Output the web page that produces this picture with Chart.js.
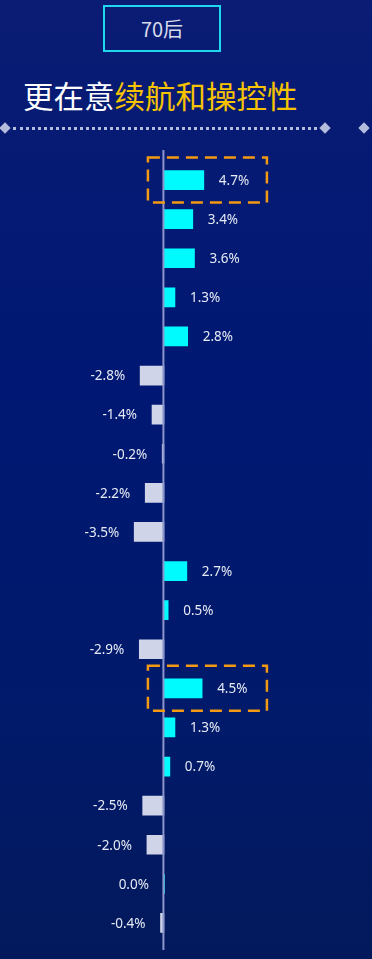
<!DOCTYPE html>
<html>
<head>
<meta charset="utf-8">
<script src="https://cdn.jsdelivr.net/npm/chart.js@4/dist/chart.umd.min.js"></script>
<style>
  html, body { margin: 0; padding: 0; }
  body {
    width: 372px; height: 959px; overflow: hidden; position: relative;
    background: linear-gradient(180deg, #0a1c74 0%, #001873 40%, #011a6a 75%, #03195c 100%);
    font-family: "Noto Sans CJK SC", "Noto Sans", sans-serif;
  }
  #tag {
    position: absolute; left: 103px; top: 5px; width: 114px; height: 43px;
    border: 2px solid #1ed8ee; color: #d8dcec; font-size: 20px;
    line-height: 43px; text-align: center;
  }
  #title {
    position: absolute; left: 23px; top: 73px; font-size: 30.5px; color: #ffffff;
    white-space: nowrap;
  }
  #title span { color: #f7c300; }
  .dots {
    position: absolute; left: 13px; top: 127px; width: 304px; height: 0;
    border-top: 3px dotted #b4bcdc;
  }
  .dia {
    position: absolute; width: 8px; height: 8px; background: #b4bcdc;
    transform: rotate(45deg); top: 124px;
  }
  #wrap { position: absolute; left: 0; top: 150px; width: 372px; height: 800px; }
</style>
</head>
<body>
<div id="tag">70后</div>
<div id="title">更在意<span>续航和操控性</span></div>
<div class="dia" style="left:1px"></div>
<div class="dots"></div>
<div class="dia" style="left:321px"></div>
<div class="dia" style="left:360px"></div>
<div id="wrap"><canvas id="myChart"></canvas></div>
<script>
const categories = ["1","2","3","4","5","6","7","8","9","10","11","12","13","14","15","16","17","18","19","20"];
const values = [4.7, 3.4, 3.6, 1.3, 2.8, -2.8, -1.4, -0.2, -2.2, -3.5, 2.7, 0.5, -2.9, 4.5, 1.3, 0.7, -2.5, -2.0, 0.0, -0.4];
const highlighted = [0, 13];

const barColors = values.map(v => v >= 0 ? "#00fbff" : "#d0d4e8");

const extras = {
  id: "extras",
  afterDatasetsDraw(chart) {
    const ctx = chart.ctx;
    const xs = chart.scales.x, ys = chart.scales.y;
    const x0 = xs.getPixelForValue(0);
    // axis line
    ctx.save();
    ctx.strokeStyle = "#8d96cc";
    ctx.lineWidth = 2;
    ctx.beginPath();
    ctx.moveTo(x0 - 0.5, 0);
    ctx.lineTo(x0 - 0.5, chart.height);
    ctx.stroke();
    // value labels
    ctx.font = "13.5px 'Noto Sans', sans-serif";
    ctx.fillStyle = "#e6eaf4";
    ctx.textBaseline = "middle";
    values.forEach((v, i) => {
      const y = ys.getPixelForValue(i);
      const xe = xs.getPixelForValue(v);
      const txt = v.toFixed(1) + "%";
      if (v > 0) { ctx.textAlign = "left"; ctx.fillText(txt, xe + 15, y + 1); }
      else { ctx.textAlign = "right"; ctx.fillText(txt, xe - 15, y + 1); }
    });
    // dashed highlight boxes
    ctx.strokeStyle = "#f39a12";
    ctx.lineWidth = 2.5;
    ctx.setLineDash([12, 7]);
    highlighted.forEach(i => {
      const y = ys.getPixelForValue(i);
      ctx.strokeRect(x0 - 16, y - 22.5, 119, 45);
    });
    ctx.restore();
  }
};

new Chart("myChart", {
  type: "bar",
  data: {
    labels: categories,
    datasets: [{ data: values, backgroundColor: barColors, barThickness: 19, minBarLength: 1 }]
  },
  options: {
    indexAxis: "y",
    responsive: true,
    maintainAspectRatio: false,
    animation: false,
    layout: { padding: { top: 10.5, bottom: 7.5, left: 0, right: 0 } },
    scales: {
      x: { display: false, min: -19.3, max: 24.5 },
      y: { display: false }
    },
    plugins: { legend: { display: false }, tooltip: { enabled: false } }
  },
  plugins: [extras]
});
</script>
</body>
</html>
